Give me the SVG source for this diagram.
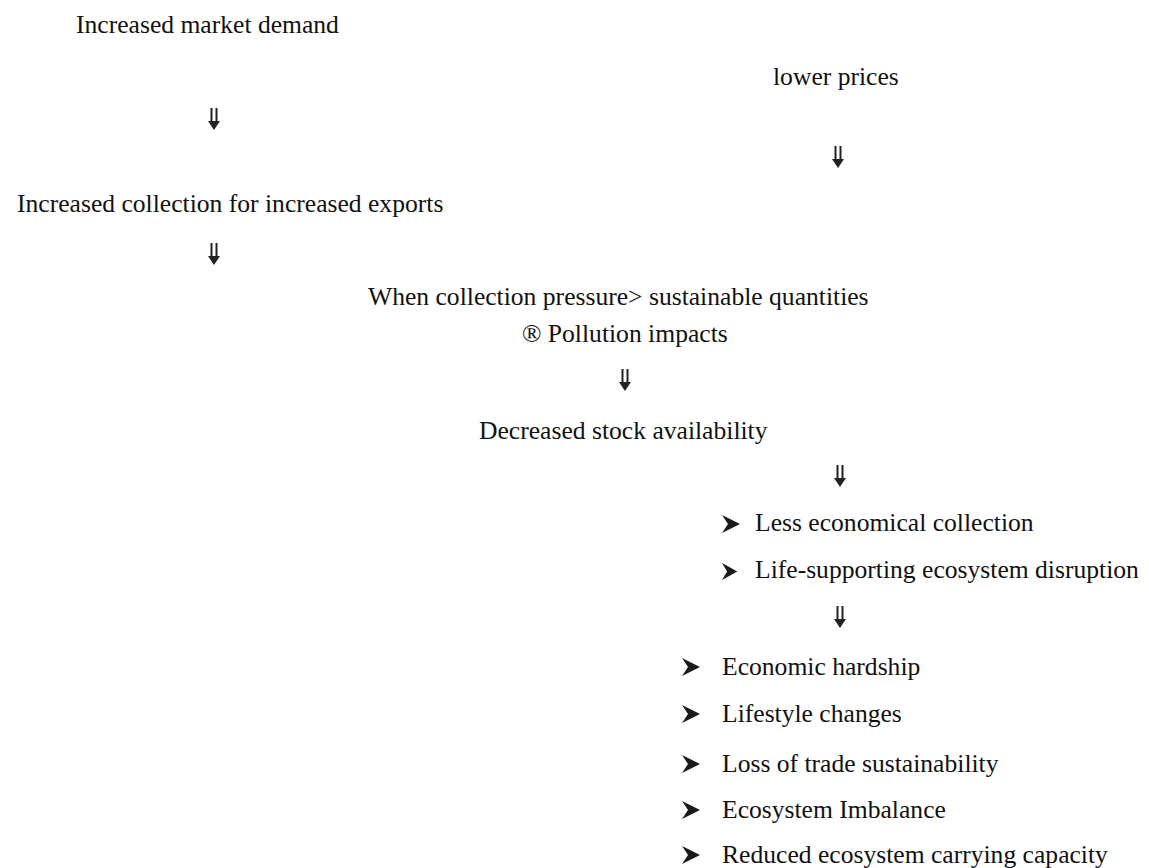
<svg xmlns="http://www.w3.org/2000/svg" xmlns:xlink="http://www.w3.org/1999/xlink" width="1149" height="868" viewBox="0 0 1149 868">
<style>
  text { font-family: "Liberation Serif", "Times New Roman", serif; font-size: 25.6px; fill: #111; }
  .bul { fill: #1a1a1a; }
  .shaft { stroke: #222; stroke-width: 2; fill: none; }
  .head { fill: #222; }
</style>
<defs>
  <g id="darrow">
    <line class="shaft" x1="4.5" y1="0" x2="4.5" y2="15"/>
    <line class="shaft" x1="9.5" y1="0" x2="9.5" y2="15"/>
    <path class="head" d="M1,13 L13,13 L7,22 Z"/>
  </g>
  <path id="bullet" class="bul" d="M0,0 L18,9 L0,18 L6,9 Z"/>
</defs>
<rect width="1149" height="868" fill="#ffffff"/>

<g id="connectors">
  <use xlink:href="#darrow" x="207" y="108"/>
  <use xlink:href="#darrow" x="831" y="146"/>
  <use xlink:href="#darrow" x="207" y="243"/>
  <use xlink:href="#darrow" x="618" y="369"/>
  <use xlink:href="#darrow" x="833" y="465"/>
  <use xlink:href="#darrow" x="833" y="606"/>
</g>

<g id="n-demand"><text x="76" y="33">Increased  market demand</text></g>
<g id="n-prices"><text x="773" y="85">lower prices</text></g>
<g id="n-collection"><text x="17" y="212">Increased collection  for increased exports</text></g>
<g id="n-pressure">
  <text x="368" y="305">When collection pressure&gt; sustainable quantities</text>
  <text x="522" y="342">® Pollution impacts</text>
</g>
<g id="n-stock"><text x="479" y="439">Decreased stock  availability</text></g>
<g id="n-effects1">
  <use xlink:href="#bullet" x="722" y="515"/>
  <text x="755" y="531">Less economical collection</text>
  <use xlink:href="#bullet" transform="translate(722,563) scale(0.85,0.95)"/>
  <text x="755" y="578">Life-supporting ecosystem disruption</text>
</g>
<g id="n-effects2">
  <use xlink:href="#bullet" x="682" y="658"/>
  <text x="722" y="675">Economic  hardship</text>
  <use xlink:href="#bullet" x="682" y="705"/>
  <text x="722" y="722">Lifestyle changes</text>
  <use xlink:href="#bullet" x="682" y="755"/>
  <text x="722" y="772">Loss of  trade sustainability</text>
  <use xlink:href="#bullet" x="682" y="801"/>
  <text x="722" y="818">Ecosystem Imbalance</text>
  <use xlink:href="#bullet" x="682" y="846"/>
  <text x="722" y="863">Reduced ecosystem carrying  capacity</text>
</g>
</svg>
